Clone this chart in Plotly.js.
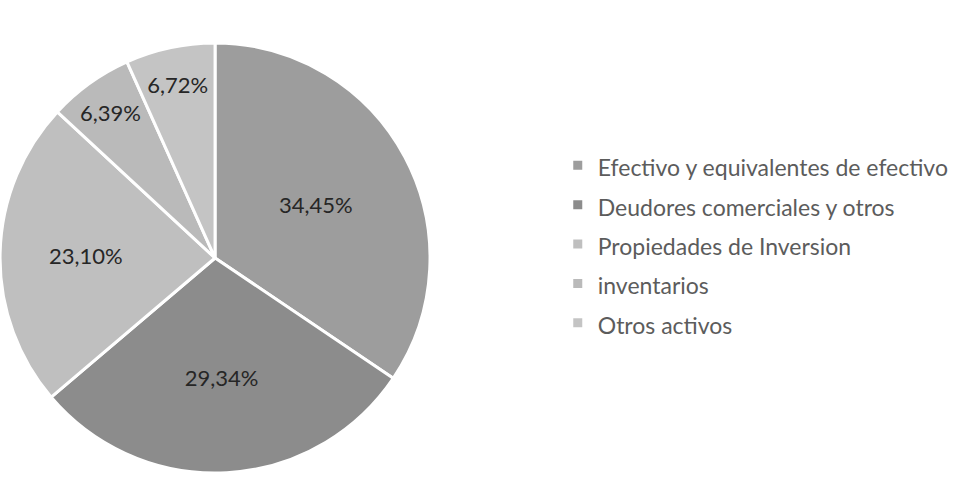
<!DOCTYPE html>
<html>
<head>
<meta charset="utf-8">
<script src="https://cdn.plot.ly/plotly-3.0.1.min.js"></script>
<style>html,body{margin:0;padding:0;background:#fff;}#chart{width:960px;height:502px;}</style>
</head>
<body>
<div id="chart"></div>
<script>
var categories = ["Efectivo y equivalentes de efectivo", "Deudores comerciales y otros", "Propiedades de Inversion", "inventarios", "Otros activos"];
var shares = [34.45, 29.34, 23.10, 6.39, 6.72];
var sliceColors = ["#9d9d9d", "#8c8c8c", "#bfbfbf", "#bababa", "#c4c4c4"];

var legendLabels = categories.map(function (c) { return '<span style="font-size:23px">' + c + '</span>'; });

var trace = {
  type: 'pie',
  labels: legendLabels,
  values: shares,
  sort: false,
  direction: 'clockwise',
  rotation: 0,
  marker: { colors: sliceColors, line: { color: '#ffffff', width: 3 } },
  texttemplate: '%{value:.2f}%',
  textposition: 'inside',
  insidetextorientation: 'horizontal',
  textfont: { family: 'Lato, sans-serif', size: 22, color: '#262626' },
  hoverinfo: 'label+percent',
  domain: { x: [0, 0.448], y: [0.0578, 0.9143] }
};

var layout = {
  width: 960, height: 502,
  margin: { l: 0, r: 0, t: 0, b: 0 },
  paper_bgcolor: '#ffffff',
  separators: ', ',
  showlegend: true,
  legend: {
    x: 0.581, y: 0.72, xanchor: 'left', yanchor: 'top',
    font: { family: 'Lato, sans-serif', size: 28, color: '#5c5c5c' },
    bgcolor: 'rgba(0,0,0,0)'
  }
};

Plotly.newPlot('chart', [trace], layout, { staticPlot: true });
</script>
</body>
</html>
